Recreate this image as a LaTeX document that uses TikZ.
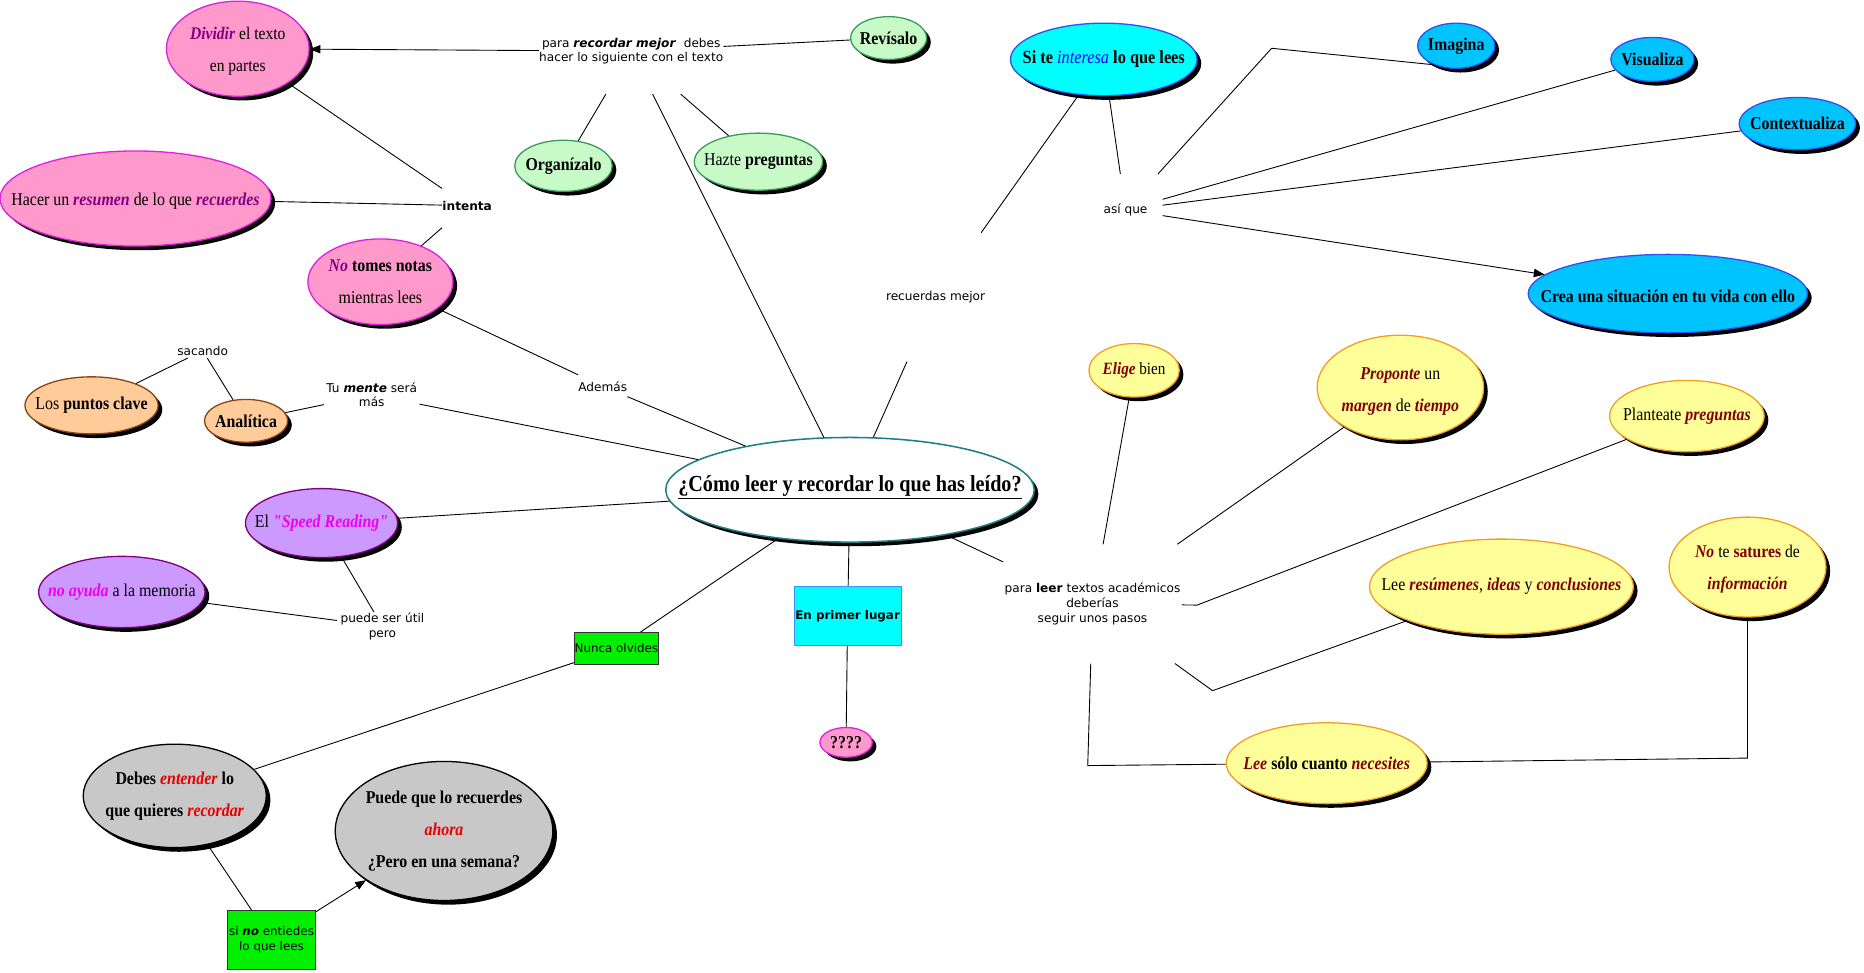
\documentclass[tikz,border=0pt]{standalone}
\usepackage{fontspec}
\newfontfamily\elf{Liberation Serif}[FakeStretch=0.88]
\newfontfamily\lbf{DejaVu Sans}
\usetikzlibrary{shapes.geometric,shadows,arrows.meta}
\definecolor{pinkF}{HTML}{FF99CC}\definecolor{pinkD}{HTML}{E020E0}
\definecolor{greenF}{HTML}{C8FAC8}\definecolor{greenD}{HTML}{3C9A60}
\definecolor{cyanF}{HTML}{00FFFF}\definecolor{blueD}{HTML}{3050F0}
\definecolor{skyF}{HTML}{00C4FF}
\definecolor{yelF}{HTML}{FFFF99}\definecolor{yelD}{HTML}{F0A020}
\definecolor{oraF}{HTML}{FFCC99}\definecolor{oraD}{HTML}{8B4513}
\definecolor{purF}{HTML}{CC99FF}\definecolor{purD}{HTML}{800080}
\definecolor{grayF}{HTML}{C8C8C8}
\definecolor{centD}{HTML}{1F7F86}
\definecolor{boxG}{HTML}{00F000}\definecolor{boxBD}{HTML}{3399FF}
\definecolor{pinkT}{HTML}{800080}\definecolor{yelT}{HTML}{800000}
\definecolor{magT}{HTML}{F000F0}\definecolor{redT}{HTML}{E80000}
\definecolor{blueT}{HTML}{0000FF}
\newcommand\emP[1]{\textcolor{pinkT}{\textbf{\textit{#1}}}}
\newcommand\emY[1]{\textcolor{yelT}{\textbf{\textit{#1}}}}
\newcommand\emM[1]{\textcolor{magT}{\textbf{\textit{#1}}}}
\newcommand\emR[1]{\textcolor{redT}{\textbf{\textit{#1}}}}
\newcommand\ef[1]{\fontsize{#1}{27}\selectfont\elf}
\newcommand\lf{\fontsize{10.2}{12.5}\selectfont\lbf}
\newcommand\boxfont{\fontsize{10}{12.5}\selectfont\lbf}
\tikzset{
  ell/.style={ellipse, inner sep=0pt, line width=1.1pt,
    drop shadow={shadow xshift=3.5pt, shadow yshift=-3.5pt, fill=black, opacity=1}},
  pinkE/.style={ell, draw=pinkD, fill=pinkF},
  greenE/.style={ell, draw=greenD, fill=greenF},
  cyanE/.style={ell, draw=blueD, fill=cyanF},
  skyE/.style={ell, draw=blueD, fill=skyF},
  yelE/.style={ell, draw=yelD, fill=yelF},
  oraE/.style={ell, draw=oraD, fill=oraF},
  purE/.style={ell, draw=purD, fill=purF},
  grayE/.style={ell, draw=black, fill=grayF},
  centE/.style={ell, draw=centD, fill=white, line width=1.3pt},
  etxt/.style={align=center, inner sep=0pt, font=\ef{15.2}},
  lab/.style={rectangle, inner sep=0pt, align=center, font=\lf},
  gbox/.style={rectangle, draw=black!80, fill=boxG, inner sep=0pt, line width=0.6pt, align=center, font=\boxfont},
  cbox/.style={rectangle, draw=boxBD, fill=cyanF, inner sep=0pt, line width=0.6pt, align=center, font=\boxfont},
  conn/.style={draw=black, line width=0.75pt},
  arr/.style={conn, -{Triangle[length=9pt,width=7pt]}},
}
\begin{document}
\begin{tikzpicture}[x=1pt,y=-1pt]
\fill[white] (0,0) rectangle (1568,818);
\useasboundingbox (0,0) rectangle (1568,818);

% ---- ellipses ----
\node[pinkE, minimum width=120pt, minimum height=80pt] (div) at (200,41) {};
\node[etxt, font=\ef{14.9}] (divt) at (200,43) {\emP{Dividir} el texto\\en partes};
\node[pinkE, minimum width=228pt, minimum height=80pt] (hacer) at (114,167) {};
\node[etxt] (hacert) at (114,169) {Hacer un \emP{resumen} de lo que \emP{recuerdes}};
\node[pinkE, minimum width=122pt, minimum height=72pt] (notomes) at (320,237) {};
\node[etxt] (notomest) at (notomes) {\emP{No} \textbf{tomes notas}\\mientras lees};
\node[oraE, minimum width=112pt, minimum height=48pt] (puntos) at (77,341) {};
\node[etxt] (puntost) at (puntos) {Los \textbf{puntos clave}};
\node[oraE, minimum width=70pt, minimum height=36pt] (anal) at (207,354) {};
\node[etxt] (analt) at (anal) {\textbf{Analítica}};
\node[greenE, minimum width=82pt, minimum height=43pt] (org) at (474,139.5) {};
\node[etxt] (orgt) at (org) {\textbf{Organízalo}};
\node[greenE, minimum width=64pt, minimum height=36pt] (rev) at (747.5,32) {};
\node[etxt] (revt) at (rev) {\textbf{Revísalo}};
\node[greenE, minimum width=108pt, minimum height=48pt] (hazte) at (638,136) {};
\node[etxt] (haztet) at (hazte) {Hazte \textbf{preguntas}};
\node[cyanE, minimum width=157pt, minimum height=61pt] (site) at (928.5,50) {};
\node[etxt, font=\ef{15.6}] (sitet) at (site) {\textbf{Si te} \textcolor{blueT}{\textit{interesa}} \textbf{lo que lees}};
\node[skyE, minimum width=65pt, minimum height=38pt] (ima) at (1225,38.5) {};
\node[etxt] (imat) at (ima) {\textbf{Imagina}};
\node[skyE, minimum width=70pt, minimum height=37pt] (vis) at (1390,50) {};
\node[etxt] (vist) at (vis) {\textbf{Visualiza}};
\node[skyE, minimum width=98pt, minimum height=44pt] (ctx) at (1512,104) {};
\node[etxt] (ctxt) at (ctx) {\textbf{Contextualiza}};
\node[skyE, minimum width=235pt, minimum height=66pt] (crea) at (1403,247) {};
\node[etxt] (creat) at (1403,249) {\textbf{Crea una situación en tu vida con ello}};
\node[yelE, minimum width=140pt, minimum height=88pt] (prop) at (1178,326) {};
\node[etxt] (propt) at (1178,329) {\emY{Proponte} un\\\emY{margen} de \emY{tiempo}};
\node[yelE, minimum width=130pt, minimum height=60pt] (plan) at (1419,350) {};
\node[etxt] (plant) at (plan) {Planteate \emY{preguntas}};
\node[yelE, minimum width=76pt, minimum height=45pt] (elige) at (954,311.5) {};
\node[etxt, font=\ef{14.5}] (eliget) at (elige) {\emY{Elige} bien};
\node[yelE, minimum width=222pt, minimum height=80pt] (leeres) at (1263,493.5) {};
\node[etxt] (leerest) at (leeres) {Lee \emY{resúmenes}, \emY{ideas} y \emY{conclusiones}};
\node[yelE, minimum width=132pt, minimum height=84pt] (nots) at (1470,477) {};
\node[etxt, font=\ef{15}] (notst) at (1470,479) {\emY{No} te \textcolor{yelT}{\textbf{satures}} de\\\emY{información}};
\node[yelE, minimum width=169pt, minimum height=68pt] (leesolo) at (1116,642) {};
\node[etxt] (leesolot) at (leesolo) {\emY{Lee} \textbf{sólo cuanto} \emY{necesites}};
\node[purE, minimum width=128pt, minimum height=58pt] (speed) at (270.5,440) {};
\node[etxt] (speedt) at (speed) {El \emM{"Speed Reading"}};
\node[purE, minimum width=140pt, minimum height=60pt] (noay) at (102.5,498) {};
\node[etxt] (noayt) at (noay) {\emM{no ayuda} a la memoria};
\node[grayE, minimum width=154pt, minimum height=87pt] (debes) at (147,669.5) {};
\node[etxt] (debest) at (debes) {\textbf{Debes \emR{entender} lo}\\\textbf{que quieres \emR{recordar}}};
\node[grayE, minimum width=183pt, minimum height=117pt] (puedeE) at (373.5,699) {};
\node[etxt] (puedet) at (puedeE) {\textbf{Puede que lo recuerdes}\\\emR{ahora}\\\textbf{¿Pero en una semana?}};
\node[pinkE, minimum width=44pt, minimum height=25pt] (qqq) at (711.7,624.5) {};
\node[etxt] (qqqt) at (qqq) {\textbf{????}};
\node[centE, minimum width=310pt, minimum height=88pt] (cent) at (715,412) {};
\node[etxt, font=\ef{19.3}] (centt) at (715,410) {\textbf{\underline{¿Cómo leer y recordar lo que has leído?}}};

% ---- boxes ----
\node[gbox, minimum width=71pt, minimum height=27pt] (nunca) at (518.5,545.5) {Nunca olvides};
\node[cbox, minimum width=90pt, minimum height=50pt] (primer) at (713,518) {\textbf{En primer lugar}};
\node[gbox, minimum width=74pt, minimum height=49pt] (sino) at (228.4,790.5) {si \textbf{\textit{no}} entiedes\\lo que lees};

% ---- labels ----
\node[lab, minimum width=153pt, minimum height=72pt] (para) at (531,43) {para \textbf{\textit{recordar mejor}}~ debes\\hacer lo siguiente con el texto};
\node[lab, minimum width=42pt, minimum height=40pt] (intenta) at (393,173) {\textbf{intenta}};
\node[lab, minimum width=38pt, minimum height=24pt] (ademas) at (507,325) {Además};
\node[lab, minimum width=40pt, minimum height=12pt] (sacando) at (170.5,295) {sacando};
\node[lab, minimum width=80pt, minimum height=26pt] (mente) at (312.7,332) {Tu \textbf{\textit{mente}} será\\más};
\node[lab, minimum width=84pt, minimum height=108pt] (recu) at (787,250) {recuerdas mejor};
\node[lab, minimum width=62pt, minimum height=60pt] (asi) at (946.8,176.6) {así que};
\node[lab, minimum width=76pt, minimum height=24pt] (puede) at (321.7,527) {puede ser útil\\pero};
\node[lab, minimum width=150pt, minimum height=100pt] (leer) at (919,508) {para \textbf{leer} textos académicos\\deberías\\seguir unos pasos};

% ---- bend points ----
\coordinate (bI) at (1069.7,40.6);
\coordinate (bP) at (1007,509);
\coordinate (bR) at (1020,581);
\coordinate (bS) at (915,644);
\coordinate (bN) at (1470,637.7);

% ---- connectors ----
\draw[arr] (para) -- (div);
\draw[conn] (para) -- (rev);
\draw[conn] (para) -- (org);
\draw[conn] (para) -- (hazte);
\draw[conn] (para) -- (cent);
\draw[conn] (div) -- (intenta);
\draw[conn] (hacer) -- (intenta);
\draw[conn] (intenta) -- (notomes);
\draw[conn] (notomes) -- (ademas);
\draw[conn] (ademas) -- (cent);
\draw[conn] (sacando) -- (puntos);
\draw[conn] (sacando) -- (anal);
\draw[conn] (anal) -- (mente);
\draw[conn] (mente) -- (cent);
\draw[conn] (speed) -- (cent);
\draw[conn] (speed) -- (puede);
\draw[conn] (noay) -- (puede);
\draw[conn] (cent) -- (nunca);
\draw[conn] (nunca) -- (debes);
\draw[conn] (debes) -- (sino);
\draw[arr] (sino) -- (puedeE);
\draw[conn] (cent) -- (primer);
\draw[conn] (primer) -- (qqq);
\draw[conn] (cent) -- (recu);
\draw[conn] (recu) -- (site);
\draw[conn] (site) -- (asi);
\draw[conn] (asi) -- (bI) -- (ima.220);
\draw[conn] (asi) -- (vis);
\draw[conn] (asi) -- (ctx);
\draw[arr] (asi) -- (crea);
\draw[conn] (cent) -- (leer);
\draw[conn] (leer) -- (elige);
\draw[conn] (leer) -- (prop);
\draw[conn] (leer) -- (bP) -- (plan);
\draw[conn] (leer) -- (bR) -- (leeres);
\draw[conn] (leer) -- (bS) -- (leesolo);
\draw[conn] (nots) -- (bN) -- (leesolo);
\end{tikzpicture}
\end{document}
